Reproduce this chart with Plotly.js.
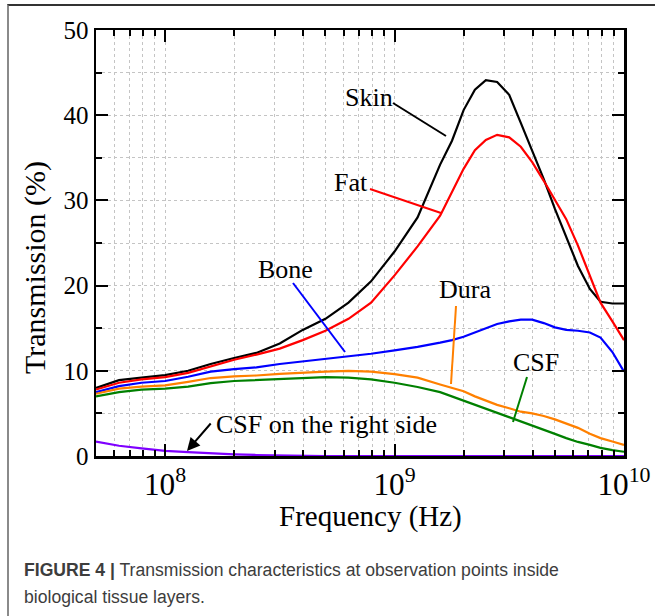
<!DOCTYPE html>
<html>
<head>
<meta charset="utf-8">
<script src="https://cdn.plot.ly/plotly-3.0.1.min.js"></script>
<style>
  html, body { margin: 0; padding: 0; background: #fff; }
  #frame { position: absolute; left: 7px; top: 4px; width: 660px; height: 620px;
           border-left: 2px solid #8a8a8a; border-top: 2px solid #333; }
  #chart { position: absolute; left: 0; top: 0; width: 655px; height: 616px; }
</style>
</head>
<body>
<div id="frame"></div>
<div id="chart"></div>
<script>
// Frequency (Hz)
const freq = [5.0e7, 6.3e7, 7.9e7, 1.0e8, 1.26e8, 1.58e8, 2.0e8, 2.5e8, 3.16e8, 3.98e8, 5.0e8, 6.3e8, 7.9e8,
              1.0e9, 1.26e9, 1.58e9, 1.78e9, 2.0e9, 2.24e9, 2.5e9, 2.8e9, 3.16e9, 3.55e9, 3.98e9, 4.47e9,
              5.0e9, 5.6e9, 6.3e9, 7.1e9, 7.9e9, 8.9e9, 1.0e10];
// Transmission (%)
const skin = [8.0, 8.9, 9.2, 9.5, 10.0, 10.8, 11.5, 12.1, 13.2, 14.8, 16.1, 18.0, 20.5,
              24.0, 28.0, 34.2, 37.0, 40.6, 43.0, 44.1, 43.9, 42.4, 39.1, 35.8, 32.5,
              29.0, 25.8, 22.3, 19.6, 18.1, 17.9, 17.9];
const fat  = [7.8, 8.6, 9.0, 9.25, 9.75, 10.5, 11.3, 11.9, 12.6, 13.6, 14.7, 16.1, 18.0,
              21.2, 24.6, 28.2, 31.0, 33.7, 35.9, 37.1, 37.7, 37.4, 36.3, 34.5, 32.3,
              30.0, 27.8, 24.7, 21.1, 18.0, 15.8, 13.6];
const bone = [7.5, 8.2, 8.6, 8.8, 9.3, 9.9, 10.2, 10.4, 10.8, 11.1, 11.4, 11.7, 12.0,
              12.4, 12.8, 13.3, 13.6, 14.0, 14.5, 15.0, 15.5, 15.8, 16.0, 16.0, 15.6,
              15.1, 14.8, 14.7, 14.5, 13.9, 12.2, 9.9];
const dura = [7.3, 7.9, 8.15, 8.3, 8.7, 9.15, 9.35, 9.45, 9.65, 9.8, 9.9, 10.0, 9.9,
              9.6, 9.2, 8.4, 8.0, 7.6, 7.0, 6.5, 6.0, 5.6, 5.2, 5.0, 4.7,
              4.3, 3.8, 3.3, 2.6, 2.1, 1.7, 1.3];
const csf  = [7.0, 7.5, 7.8, 7.9, 8.15, 8.55, 8.8, 8.9, 9.0, 9.15, 9.25, 9.2, 9.0,
              8.6, 8.1, 7.5, 7.0, 6.5, 6.0, 5.5, 5.1, 4.6, 4.1, 3.6, 3.1,
              2.6, 2.1, 1.65, 1.3, 0.95, 0.7, 0.5];
const csfRight = [1.7, 1.2, 0.9, 0.6, 0.45, 0.3, 0.2, 0.12, 0.06, 0.03, 0.0, 0.0, 0.0,
                  0.0, 0.0, 0.0, 0.0, 0.0, 0.0, 0.0, 0.0, 0.0, 0.0, 0.0, 0.0,
                  0.0, 0.0, 0.0, 0.0, 0.0, 0.0, 0.0];

const seriesNames  = ['Skin', 'Fat', 'Bone', 'Dura', 'CSF', 'CSF on the right side'];
const seriesValues = [skin, fat, bone, dura, csf, csfRight];
const seriesColors = ['#000000', '#ff0000', '#0000ff', '#ff8000', '#008000', '#7f00ff'];

const yTickVals = [0, 10, 20, 30, 40, 50];

// plot area in pixels
const L = 96, R = 624, T = 30, B = 456;
const px = x => (x - L) / (R - L);
const py = y => (B - y) / (B - T);

const serif = 'Liberation Serif, Times New Roman, serif';

const traces = seriesValues.map((v, i) => ({
  x: freq, y: v, type: 'scatter', mode: 'lines', name: seriesNames[i],
  line: {color: seriesColors[i], width: 2.2}, cliponaxis: true
}));

// label text + leader lines (pixel positions)
const labels = [
  {t: 'Skin', x: 369, y: 98, c: '#000000', l: [393, 103, 446, 136]},
  {t: 'Fat',  x: 351, y: 182, c: '#ff0000', l: [370, 189, 441, 213]},
  {t: 'Bone', x: 285, y: 269, c: '#0000ff', l: [293, 283, 345, 352]},
  {t: 'Dura', x: 465, y: 290, c: '#ff8000', l: [456, 306, 451, 384]},
  {t: 'CSF',  x: 536, y: 362, c: '#008000', l: [527, 377, 513, 422]},
  {t: 'CSF on the right side', x: 326, y: 424, c: null, l: null}
];

const annotations = labels.map(o => ({
  xref: 'paper', yref: 'paper', x: px(o.x), y: py(o.y), text: o.t, showarrow: false,
  xanchor: 'center', yanchor: 'middle', font: {family: serif, size: 26, color: '#000'}
}));

// arrow for "CSF on the right side"
annotations.push({
  xref: 'paper', yref: 'paper', x: px(187), y: py(451), ax: 25, ay: -29,
  text: '', showarrow: true, arrowhead: 2, arrowsize: 1.3, arrowwidth: 2, arrowcolor: '#000',
  standoff: 0, startstandoff: 0
});

// axis titles
annotations.push({
  xref: 'paper', yref: 'paper', x: px(370), y: py(516), text: 'Frequency (Hz)', showarrow: false,
  xanchor: 'center', yanchor: 'middle', font: {family: serif, size: 29, color: '#000'}
});
annotations.push({
  xref: 'paper', yref: 'paper', x: px(35), y: py(268), text: 'Transmission (%)', showarrow: false,
  textangle: -90, xanchor: 'center', yanchor: 'middle', font: {family: serif, size: 30, color: '#000'}
});

// caption
const capFont = 'Liberation Sans Narrow, Arial Narrow, Liberation Sans, sans-serif';
annotations.push({
  xref: 'paper', yref: 'paper', x: px(22), y: py(570), xanchor: 'left', yanchor: 'middle', showarrow: false,
  text: '<b>FIGURE 4 |</b> Transmission characteristics at observation points inside',
  font: {family: capFont, size: 17.6, color: '#3d3d3d'}, align: 'left'
});
annotations.push({
  xref: 'paper', yref: 'paper', x: px(22), y: py(597), xanchor: 'left', yanchor: 'middle', showarrow: false,
  text: 'biological tissue layers.',
  font: {family: capFont, size: 17.6, color: '#3d3d3d'}, align: 'left'
});

const shapes = labels.filter(o => o.l).map(o => ({
  type: 'line', xref: 'paper', yref: 'paper',
  x0: px(o.l[0]), y0: py(o.l[1]), x1: px(o.l[2]), y1: py(o.l[3]),
  line: {color: o.c, width: 2}
}));

const gridStyle = {gridcolor: '#c4c4c4', griddash: 'dot', gridwidth: 1};

const layout = {
  width: 655, height: 616,
  margin: {l: L, r: 655 - R, t: T, b: 616 - B, pad: 0},
  paper_bgcolor: 'rgba(0,0,0,0)', plot_bgcolor: 'rgba(0,0,0,0)',
  showlegend: false,
  font: {family: serif, color: '#000'},
  xaxis: {
    type: 'log', range: [Math.log10(5e7), 10], dtick: 1, exponentformat: 'power',
    showline: true, linecolor: '#000', linewidth: 2.5, mirror: 'ticks',
    ticks: 'inside', ticklen: 12, tickwidth: 2, tickcolor: '#000',
    tickfont: {family: serif, size: 25, color: '#000'},
    showgrid: true, ...gridStyle, zeroline: false,
    minor: {dtick: 'D1', ticks: 'inside', ticklen: 6, tickwidth: 2, tickcolor: '#000', showgrid: true, ...gridStyle}
  },
  yaxis: {
    range: [0, 50], tickvals: yTickVals, ticktext: yTickVals.map(String),
    showline: true, linecolor: '#000', linewidth: 2.5, mirror: 'ticks',
    ticks: 'inside', ticklen: 12, tickwidth: 2, tickcolor: '#000',
    tickfont: {family: serif, size: 25, color: '#000'},
    showgrid: true, ...gridStyle, zeroline: false,
    minor: {dtick: 5, ticks: 'inside', ticklen: 6, tickwidth: 2, tickcolor: '#000', showgrid: true, ...gridStyle}
  },
  annotations: annotations,
  shapes: shapes
};

Plotly.newPlot('chart', traces, layout, {displayModeBar: false, staticPlot: true});
</script>
</body>
</html>
